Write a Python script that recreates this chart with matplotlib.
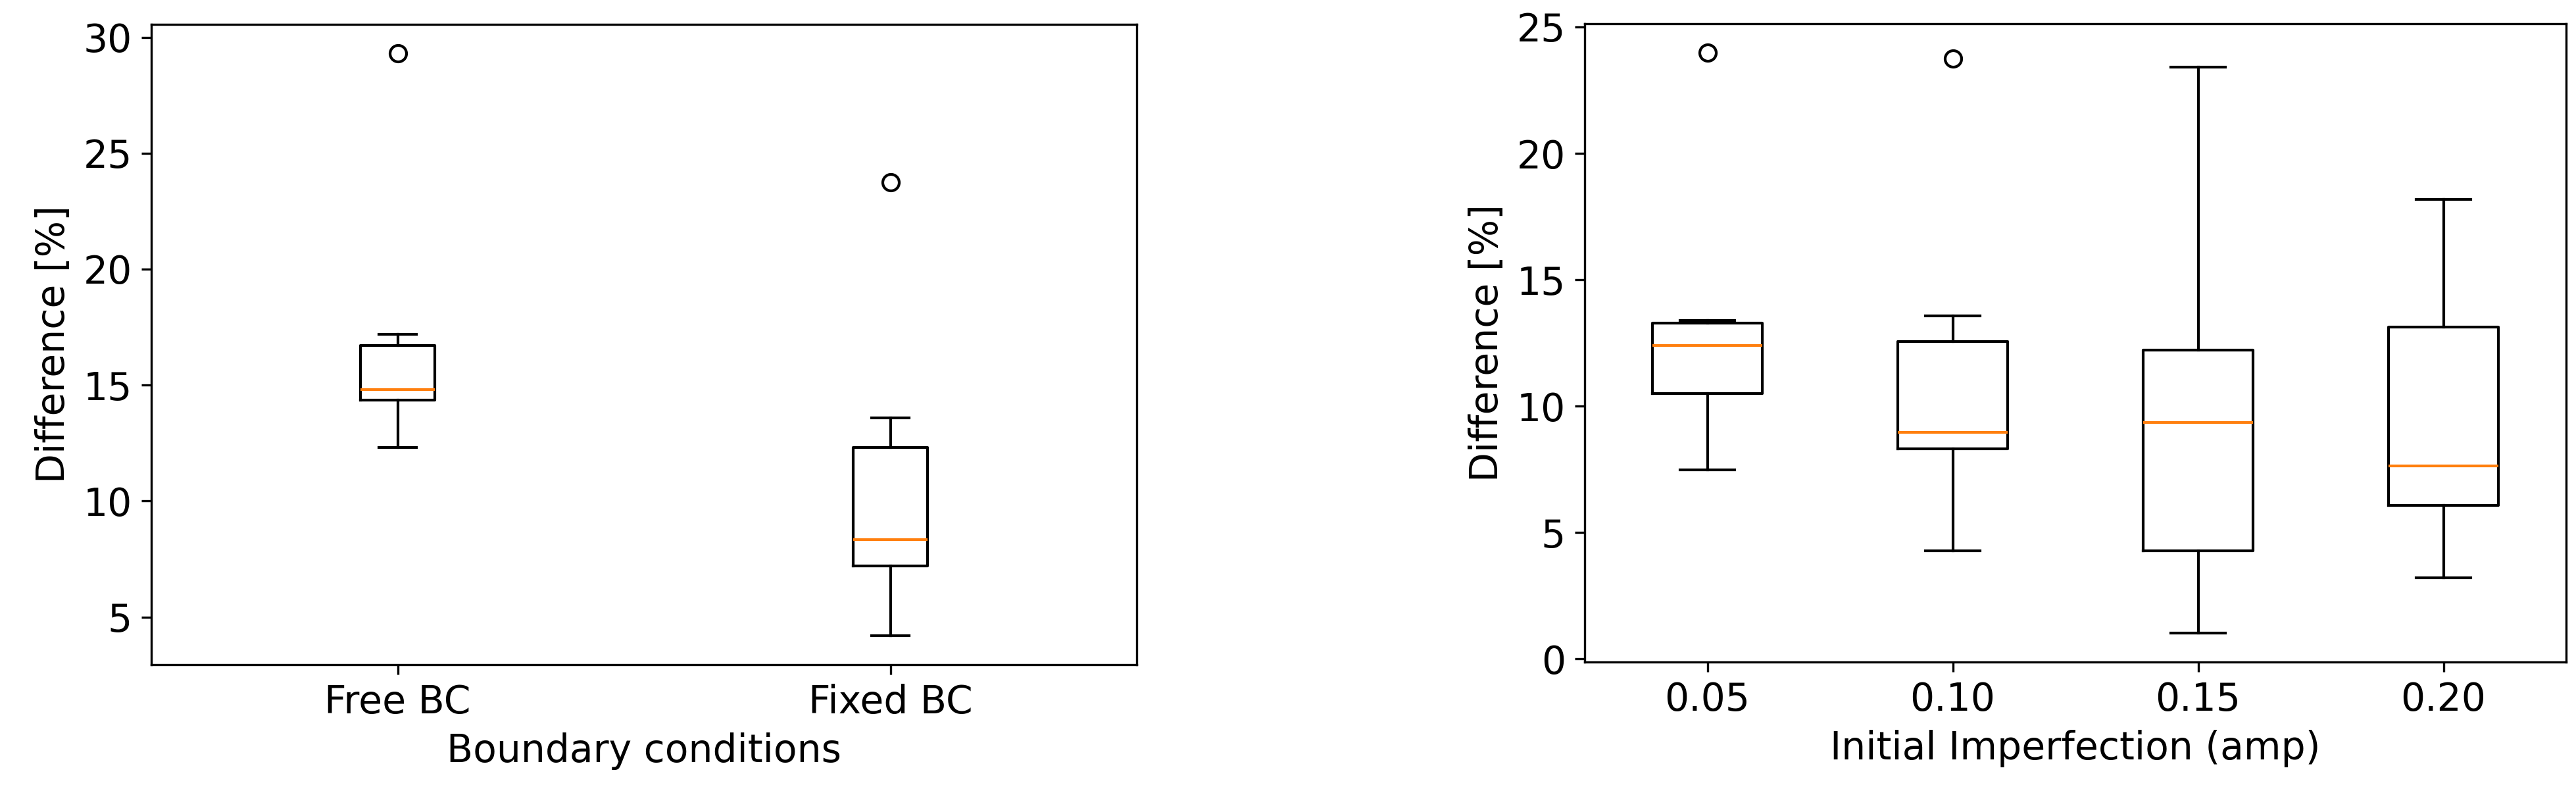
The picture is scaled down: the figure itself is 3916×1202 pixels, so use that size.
import matplotlib
matplotlib.use("Agg")
import matplotlib.pyplot as plt

# boundary condition comparison
bc_labels = ["Free BC", "Fixed BC"]
bc_med = [14.8, 8.35]
bc_q1 = [14.35, 7.2]
bc_q3 = [16.7, 12.3]
bc_lo = [12.3, 4.2]
bc_hi = [17.2, 13.6]
bc_fliers = [[29.3], [23.75]]

# initial imperfection amplitude comparison
amp_labels = ["0.05", "0.10", "0.15", "0.20"]
amp_med = [12.4, 8.97, 9.35, 7.63]
amp_q1 = [10.5, 8.31, 4.28, 6.08]
amp_q3 = [13.28, 12.56, 12.21, 13.12]
amp_lo = [7.47, 4.28, 1.03, 3.22]
amp_hi = [13.4, 13.56, 23.4, 18.19]
amp_fliers = [[23.98], [23.74], [], []]


def make_stats(labels, med, q1, q3, lo, hi, fliers):
    stats = []
    for i in range(len(labels)):
        stats.append({"label": labels[i], "med": med[i], "q1": q1[i], "q3": q3[i],
                      "whislo": lo[i], "whishi": hi[i], "fliers": fliers[i]})
    return stats


plt.rcParams["font.size"] = 14

W, H = 3916, 1202
fig = plt.figure(figsize=(W / 300, H / 300), dpi=300)

ax1 = fig.add_axes([230 / W, (H - 1010) / H, 1498 / W, 973 / H])
ax1.bxp(make_stats(bc_labels, bc_med, bc_q1, bc_q3, bc_lo, bc_hi, bc_fliers))
ax1.set_xlabel("Boundary conditions")
ax1.set_ylabel("Difference [%]")

ax2 = fig.add_axes([2409 / W, (H - 1006) / H, 1492 / W, 970 / H])
ax2.bxp(make_stats(amp_labels, amp_med, amp_q1, amp_q3, amp_lo, amp_hi, amp_fliers))
ax2.set_xlabel("Initial Imperfection (amp)")
ax2.set_ylabel("Difference [%]")

fig.savefig("out.png", dpi=300)
